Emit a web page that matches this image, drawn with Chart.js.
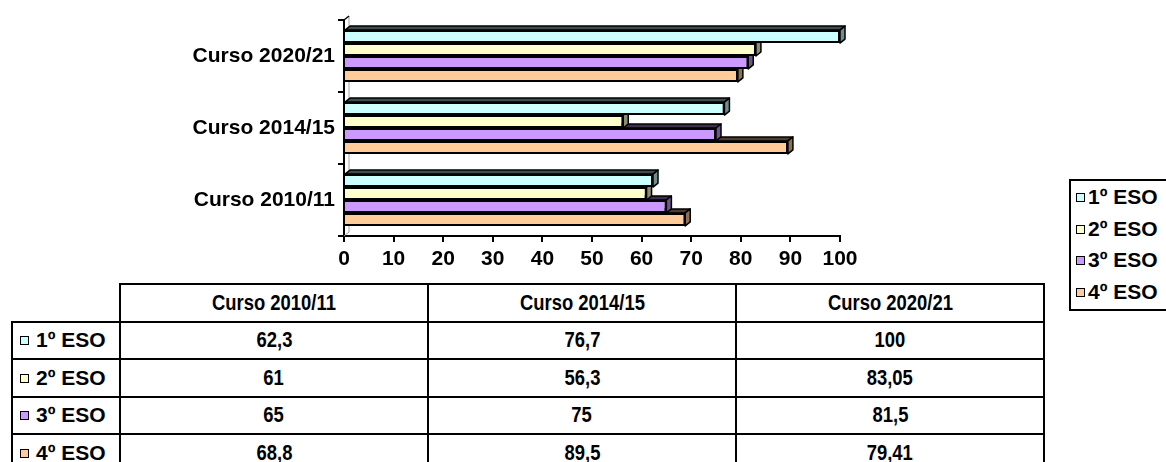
<!DOCTYPE html>
<html>
<head>
<meta charset="utf-8">
<script src="https://cdn.jsdelivr.net/npm/chart.js@4.4.0/dist/chart.umd.min.js"></script>
<style>
    html, body { margin: 0; padding: 0; background: #fff; }
    body {
        width: 1166px; height: 462px; position: relative; overflow: hidden;
        font-family: "Liberation Sans", Arial, sans-serif; font-weight: bold; color: #000;
    }
    #grafico { position: absolute; left: 0; top: 0; }

    /* tabla de datos */
    #tabla {
        position: absolute; left: 11px; top: 283px;
        border-collapse: collapse; table-layout: fixed;
        font: bold 19px "Liberation Sans", Arial, sans-serif;
    }
    #tabla td, #tabla th {
        border: 2px solid #000; padding: 0; text-align: center; font-weight: bold;
        white-space: nowrap; overflow: hidden;
    }
    #tabla tr { height: 37.5px; }
    #tabla th.vacio { border-top: none; border-left: none; }
    #tabla td.nivel { text-align: left; padding-left: 7px; font-size: 21px; }
    .alto { display: inline-block; transform: scale(0.97, 1.15); }

    .cuadro {
        display: inline-block; width: 7px; height: 7px; border: 1.5px solid #000;
        margin-right: 7px; vertical-align: 2px;
    }

    /* leyenda */
    #leyenda {
        position: absolute; left: 1069px; top: 179px; width: 120px; height: 128px;
        border: 2px solid #000; font: bold 21px "Liberation Sans", Arial, sans-serif;
    }
    #leyenda div { height: 31.5px; line-height: 31.5px; padding-left: 5px; white-space: nowrap; }
    #leyenda .cuadro { margin-right: 3px; }
</style>
</head>
<body>
<canvas id="grafico" width="880" height="275"></canvas>
<table id="tabla"></table>
<div id="leyenda"></div>

<script>
/* ============================================================
   DATOS
============================================================ */
const cursos = ["Curso 2010/11", "Curso 2014/15", "Curso 2020/21"];
const niveles = ["1º ESO", "2º ESO", "3º ESO", "4º ESO"];

const eso1 = [62.3, 76.7, 100];
const eso2 = [61, 56.3, 83.05];
const eso3 = [65, 75, 81.5];
const eso4 = [68.8, 89.5, 79.41];

const xMin = 0;
const xMax = 100;
const xPaso = 10;

const colores = ["#CCFFFF", "#FFFFCC", "#CC99FF", "#FFCC99"];
const series = [eso1, eso2, eso3, eso4];

const FUENTE = "'Liberation Sans', Arial, sans-serif";
const DX = 5, DY = 4;   // profundidad del efecto 3D

function oscurecer(hex, f) {
    const n = parseInt(hex.slice(1), 16);
    const r = Math.round(((n >> 16) & 255) * f);
    const g = Math.round(((n >> 8) & 255) * f);
    const b = Math.round((n & 255) * f);
    return `rgb(${r},${g},${b})`;
}

function formato(v) {
    return String(v).replace(".", ",");
}

/* ============================================================
   EFECTO 3D (pared del fondo + caras superior y lateral)
============================================================ */
const barras3d = {
    id: "barras3d",
    beforeDatasetsDraw(chart) {
        const c = chart.ctx;
        const a = chart.chartArea;
        c.save();
        c.strokeStyle = "#a0a0a0";
        c.lineWidth = 1;
        c.beginPath();
        c.moveTo(a.left + DX, a.top - DY);
        c.lineTo(a.left + DX, a.bottom - DY);
        c.lineTo(a.left, a.bottom);
        c.stroke();
        c.strokeStyle = "#000";
        c.lineWidth = 1.5;
        c.beginPath();
        c.moveTo(a.left, a.top);
        c.lineTo(a.left + DX, a.top - DY);
        c.stroke();
        c.restore();
    },
    beforeDatasetDraw(chart, args) {
        const c = chart.ctx;
        const col = colores[args.index];
        c.save();
        c.strokeStyle = "#000";
        c.lineWidth = 1.5;
        c.lineJoin = "round";
        args.meta.data.forEach(bar => {
            const p = bar.getProps(["x", "y", "base", "height"], true);
            const arriba = p.y - p.height / 2;
            const abajo = p.y + p.height / 2;

            c.beginPath();
            c.moveTo(p.base, arriba);
            c.lineTo(p.base + DX, arriba - DY);
            c.lineTo(p.x + DX, arriba - DY);
            c.lineTo(p.x, arriba);
            c.closePath();
            c.fillStyle = oscurecer(col, 0.3);
            c.fill();
            c.stroke();

            c.beginPath();
            c.moveTo(p.x, arriba);
            c.lineTo(p.x + DX, arriba - DY);
            c.lineTo(p.x + DX, abajo - DY);
            c.lineTo(p.x, abajo);
            c.closePath();
            c.fillStyle = oscurecer(col, 0.55);
            c.fill();
            c.stroke();
        });
        c.restore();
    }
};

/* ============================================================
   GRÁFICA
============================================================ */
// el eje de categorías va de arriba a abajo: invertimos el orden
const etiquetas = cursos.slice().reverse();

new Chart(document.getElementById("grafico"), {
    type: "bar",
    data: {
        labels: etiquetas,
        datasets: niveles.map((n, i) => ({
            label: n,
            data: series[i].slice().reverse(),
            backgroundColor: colores[i],
            borderColor: "#000",
            borderWidth: 2,
            categoryPercentage: 0.72,
            barPercentage: 1
        }))
    },
    options: {
        indexAxis: "y",
        responsive: false,
        animation: false,
        layout: { padding: { top: 20, right: 40, left: 0, bottom: 0 } },
        plugins: {
            legend: { display: false },
            tooltip: { enabled: false }
        },
        scales: {
            x: {
                min: xMin,
                max: xMax,
                ticks: {
                    stepSize: xPaso,
                    color: "#000",
                    padding: 5,
                    maxRotation: 0,
                    font: { family: FUENTE, size: 21, weight: "bold" }
                },
                grid: { drawOnChartArea: false, color: "#000", lineWidth: 2, tickLength: 6 },
                border: { color: "#000", width: 2 },
                afterFit: s => { s.height = 275 - 236; }
            },
            y: {
                ticks: {
                    color: "#000",
                    padding: 3,
                    font: { family: FUENTE, size: 21, weight: "bold" }
                },
                grid: { drawOnChartArea: false, color: "#000", lineWidth: 2, tickLength: 6, offset: true },
                border: { color: "#000", width: 2 },
                afterFit: s => { s.width = 344; }
            }
        }
    },
    plugins: [barras3d]
});

/* ============================================================
   TABLA DE DATOS
============================================================ */
const tabla = document.getElementById("tabla");
let html = '<colgroup><col style="width:108px"><col style="width:308px"><col style="width:308px"><col style="width:308px"></colgroup>';
html += '<tr><th class="vacio"></th>' + cursos.map(c => `<th><span class="alto">${c}</span></th>`).join("") + "</tr>";
niveles.forEach((n, i) => {
    html += `<tr><td class="nivel"><span class="cuadro" style="background:${colores[i]}"></span>${n}</td>`;
    html += series[i].map(v => `<td><span class="alto">${formato(v)}</span></td>`).join("");
    html += "</tr>";
});
tabla.innerHTML = html;

/* ============================================================
   LEYENDA
============================================================ */
const leyenda = document.getElementById("leyenda");
leyenda.innerHTML = niveles.map((n, i) =>
    `<div><span class="cuadro" style="background:${colores[i]}"></span>${n}</div>`
).join("");
</script>
</body>
</html>
